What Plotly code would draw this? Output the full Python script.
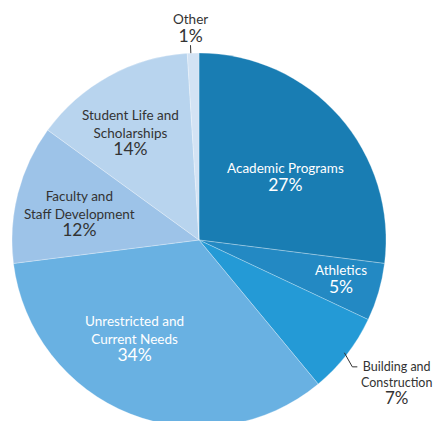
import math
import plotly.graph_objects as go

categories = ["Academic Programs", "Athletics", "Building and Construction",
              "Unrestricted and Current Needs", "Faculty and Staff Development",
              "Student Life and Scholarships", "Other"]
label_text = ["Academic Programs", "Athletics", "Building and<br>Construction",
              "Unrestricted and<br>Current Needs", "Faculty and<br>Staff Development",
              "Student Life and<br>Scholarships", "Other"]
values = [27, 5, 7, 34, 12, 14, 1]
colors = ["#197db3", "#2389c3", "#249ad6", "#69b1e2", "#9dc3e8", "#b8d4ee", "#d3e3f4"]

# label styling / placement (radius fraction, angle tweak deg, text colour)
label_style = {
    "Academic Programs": (0.57, 5.6, "white"),
    "Athletics": (0.79, -0.6, "white"),
    "Unrestricted and Current Needs": (0.63, 11.5, "white"),
    "Faculty and Staff Development": (0.655, -2.3, "#333333"),
    "Student Life and Scholarships": (0.68, -3.6, "#333333"),
}

# figure sits 8px inside the page (default body margin)
W, H = 435, 419
ML, MR, MT, MB = 4, 57, 45, 0
PW, PH = W - ML - MR, H - MT - MB
R = min(PW, PH) / 2
CX, CY = ML + PW / 2, MT + PH / 2


def px(x):
    return (x - ML) / PW


def py(y):
    return 1 - (y - MT) / PH


def polar(angle_deg, r):
    a = math.radians(angle_deg)
    return CX + r * math.sin(a), CY - r * math.cos(a)


total = sum(values)
mids = []
acc = 0
for v in values:
    mids.append((acc + v / 2) / total * 360)
    acc += v

FONT = "Lato, 'Open Sans', sans-serif"

fig = go.Figure(go.Pie(
    labels=categories, values=values, sort=False, direction="clockwise",
    rotation=0, textinfo="none", hoverinfo="label+percent",
    marker=dict(colors=colors, line=dict(color="rgba(255,255,255,0.45)", width=0.6)),
    showlegend=False, domain=dict(x=[0, 1], y=[0, 1]),
))

annotations = []
shapes = []


def label_html(name, val, pct_size=17.5):
    return f"{name}<br><span style='font-size:{pct_size}px'>{val}%</span>"


for cat, txt, v, mid in zip(categories, label_text, values, mids):
    if cat in label_style:
        rf, da, col = label_style[cat]
        x, y = polar(mid + da, rf * R)
        annotations.append(dict(x=px(x), y=py(y), xref="paper", yref="paper",
                                text=label_html(txt, v), showarrow=False,
                                font=dict(family=FONT, size=13.5, color=col),
                                xanchor="center", yanchor="middle", align="center"))

# Other: short radial tick and label above
i_o = categories.index("Other")
ang_o = mids[i_o] - 0.7
x0, y0 = polar(ang_o, R)
x1, y1 = polar(ang_o, R + 8)
shapes.append(dict(type="line", xref="paper", yref="paper", x0=px(x0), y0=py(y0),
                   x1=px(x1), y1=py(y1), line=dict(color="#333333", width=1)))
annotations.append(dict(x=px(x1), y=py(y1 + 3), xref="paper", yref="paper",
                        text=label_html(label_text[i_o], values[i_o]), showarrow=False,
                        font=dict(family=FONT, size=13.5, color="#333333"),
                        xanchor="center", yanchor="bottom", align="center"))

# Building: elbow leader and label to the right
i_b = categories.index("Building and Construction")
ang_b = mids[i_b]
x0, y0 = polar(ang_b, R - 3)
x1, y1 = polar(ang_b + 1.8, R + 12)
x2 = x1 + 5
shapes.append(dict(type="path", xref="paper", yref="paper",
                   path=f"M {px(x0)} {py(y0)} L {px(x1)} {py(y1)} L {px(x2)} {py(y1)}",
                   line=dict(color="#333333", width=1)))
annotations.append(dict(x=px(x2 + 2), y=py(y1 + 17), xref="paper", yref="paper",
                        text=label_html(label_text[i_b], values[i_b], 17), showarrow=False,
                        font=dict(family=FONT, size=12.5, color="#333333"),
                        xanchor="left", yanchor="middle", align="center"))

fig.update_layout(width=W, height=H, margin=dict(l=ML, r=MR, t=MT, b=MB),
                  paper_bgcolor="white", plot_bgcolor="white",
                  annotations=annotations, shapes=shapes)
fig.write_html("out.html")
